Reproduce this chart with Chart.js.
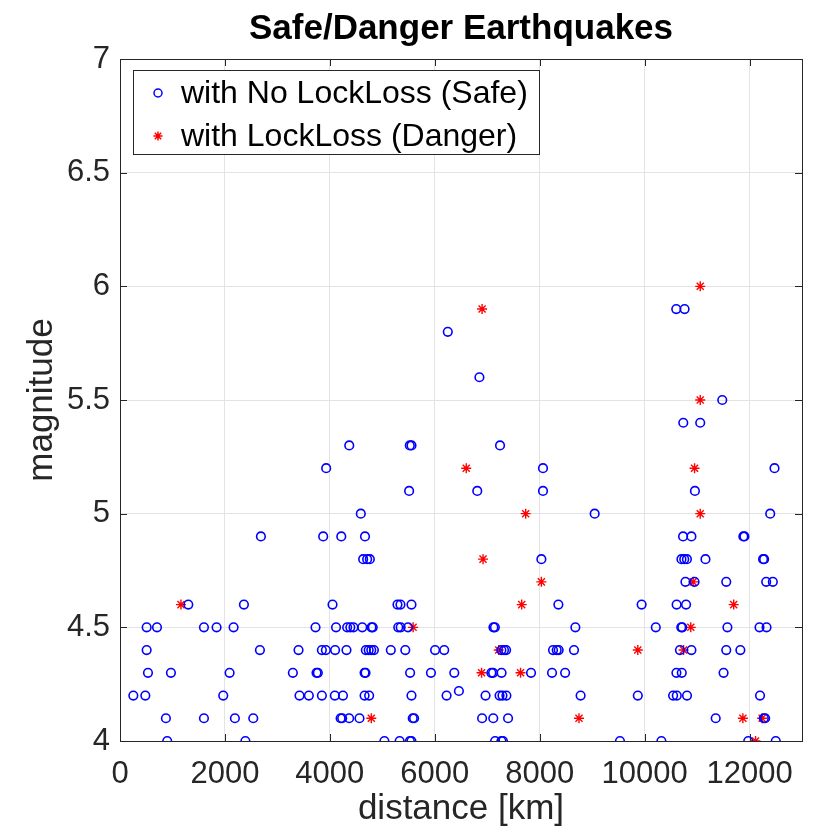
<!DOCTYPE html>
<html>
<head>
<meta charset="utf-8">
<script src="https://cdn.jsdelivr.net/npm/chart.js@4.4.1/dist/chart.umd.min.js"></script>
<style>
  html, body { margin: 0; padding: 0; background: #ffffff; }
  canvas { display: block; }
</style>
</head>
<body>
<canvas id="c" width="820" height="831"></canvas>
<script>
// ---- Data ----
const chartTitle = 'Safe/Danger Earthquakes';
const xAxisTitle = 'distance [km]';
const yAxisTitle = 'magnitude';
const safeLabel = 'with No LockLoss (Safe)';
const dangerLabel = 'with LockLoss (Danger)';

const xTickValues = [0, 2000, 4000, 6000, 8000, 10000, 12000];
const xTickLabels = ['0', '2000', '4000', '6000', '8000', '10000', '12000'];
const yTickValues = [4, 4.5, 5, 5.5, 6, 6.5, 7];
const yTickLabels = ['4', '4.5', '5', '5.5', '6', '6.5', '7'];

const safeDistance = [
  900, 2390, 5040, 5330, 5525, 5555, 7150, 7270, 7300, 9530, 10320, 11975, 12500,
  875, 1600, 2190, 2540, 4205, 4235, 4368, 4565, 5580, 5606, 6902, 7115, 7397, 11355, 12272, 12298,
  254, 483, 1968, 3422, 3600, 3848, 4095, 4250, 4662, 4749, 5556, 6225, 6968, 7235, 7290, 7365, 8780, 9870, 10543, 10613, 10808, 12200,
  6460,
  533, 971, 2089, 3295, 3746, 3771, 4662, 4680, 5530, 5927, 6372, 7079, 7111, 7273, 7835, 8235, 8485, 10606, 10708, 11505,
  508, 2667, 3403, 3848, 3924, 4100, 4317, 4686, 4740, 4790, 4840, 5162, 5438, 6006, 6180, 7270, 7320, 7360, 8254, 8324, 8362, 8654, 10673, 10892, 11556, 11825,
  508, 705, 1600, 1841, 2165, 3727, 4118, 4330, 4390, 4450, 4618, 4794, 4818, 5304, 5350, 5490, 7118, 7146, 8680, 10213, 10698, 10718, 11578, 12190, 12324,
  1302, 2362, 4051, 5289, 5346, 5556, 8356, 9943, 10610, 10790,
  10778, 10952, 11556, 12317, 12444,
  4635, 4711, 4762, 8032, 10702, 10755, 10806, 11160, 12258, 12278,
  2686, 3873, 4218, 4670, 10733, 10892, 11882, 11902,
  4590, 9048, 12394,
  5511, 6810, 8063, 10959,
  3930, 8063, 12476,
  4370, 5524, 5556, 7244,
  10737, 11060,
  11480,
  6851,
  6248,
  10603, 10762
];
const safeMagnitude = [
  4.0, 4.0, 4.0, 4.0, 4.0, 4.0, 4.0, 4.0, 4.0, 4.0, 4.0, 4.0, 4.0,
  4.1, 4.1, 4.1, 4.1, 4.1, 4.1, 4.1, 4.1, 4.1, 4.1, 4.1, 4.1, 4.1, 4.1, 4.1, 4.1,
  4.2, 4.2, 4.2, 4.2, 4.2, 4.2, 4.2, 4.2, 4.2, 4.2, 4.2, 4.2, 4.2, 4.2, 4.2, 4.2, 4.2, 4.2, 4.2, 4.2, 4.2, 4.2,
  4.22,
  4.3, 4.3, 4.3, 4.3, 4.3, 4.3, 4.3, 4.3, 4.3, 4.3, 4.3, 4.3, 4.3, 4.3, 4.3, 4.3, 4.3, 4.3, 4.3, 4.3,
  4.4, 4.4, 4.4, 4.4, 4.4, 4.4, 4.4, 4.4, 4.4, 4.4, 4.4, 4.4, 4.4, 4.4, 4.4, 4.4, 4.4, 4.4, 4.4, 4.4, 4.4, 4.4, 4.4, 4.4, 4.4, 4.4,
  4.5, 4.5, 4.5, 4.5, 4.5, 4.5, 4.5, 4.5, 4.5, 4.5, 4.5, 4.5, 4.5, 4.5, 4.5, 4.5, 4.5, 4.5, 4.5, 4.5, 4.5, 4.5, 4.5, 4.5, 4.5,
  4.6, 4.6, 4.6, 4.6, 4.6, 4.6, 4.6, 4.6, 4.6, 4.6,
  4.7, 4.7, 4.7, 4.7, 4.7,
  4.8, 4.8, 4.8, 4.8, 4.8, 4.8, 4.8, 4.8, 4.8, 4.8,
  4.9, 4.9, 4.9, 4.9, 4.9, 4.9, 4.9, 4.9,
  5.0, 5.0, 5.0,
  5.1, 5.1, 5.1, 5.1,
  5.2, 5.2, 5.2,
  5.3, 5.3, 5.3, 5.3,
  5.4, 5.4,
  5.5,
  5.6,
  5.8,
  5.9, 5.9
];

const dangerDistance = [
  12114,
  4790, 8749, 11873, 12240,
  6892, 7635,
  7219, 9870, 10743,
  5587, 10880,
  1162, 7657, 11698,
  8032, 10925,
  6920,
  7733, 11060,
  6600, 10952,
  11060,
  6902,
  11060
];
const dangerMagnitude = [
  4.0,
  4.1, 4.1, 4.1, 4.1,
  4.3, 4.3,
  4.4, 4.4, 4.4,
  4.5, 4.5,
  4.6, 4.6, 4.6,
  4.7, 4.7,
  4.8,
  5.0, 5.0,
  5.2, 5.2,
  5.5,
  5.9,
  6.0
];

const toPoints = (xs, ys) => xs.map((x, i) => ({ x: x, y: ys[i] }));

const FONT = "'Liberation Sans', Arial, Helvetica, sans-serif";
const AXIS_COLOR = '#262626';
const BLUE = '#0000ff';
const RED = '#ff0000';

// Title centred over the axes (MATLAB style)
const titlePlugin = {
  id: 'axesTitle',
  afterDraw(chart) {
    const { ctx, chartArea: a } = chart;
    ctx.save();
    ctx.fillStyle = '#000000';
    ctx.font = 'bold 35px ' + FONT;
    ctx.textAlign = 'center';
    ctx.textBaseline = 'middle';
    ctx.fillText(chartTitle, (a.left + a.right) / 2, 29);
    ctx.restore();
  }
};

// Box, inward ticks (MATLAB style)
const boxPlugin = {
  id: 'boxPlugin',
  beforeDatasetsDraw(chart) {
    const { ctx, chartArea: a, scales } = chart;
    ctx.save();
    ctx.strokeStyle = AXIS_COLOR;
    ctx.lineWidth = 1;
    const tl = 7;
    ctx.beginPath();
    xTickValues.forEach(v => {
      const px = Math.round(scales.x.getPixelForValue(v)) + 0.5;
      ctx.moveTo(px, a.bottom); ctx.lineTo(px, a.bottom - tl);
      ctx.moveTo(px, a.top); ctx.lineTo(px, a.top + tl);
    });
    yTickValues.forEach(v => {
      const py = Math.round(scales.y.getPixelForValue(v)) + 0.5;
      ctx.moveTo(a.left, py); ctx.lineTo(a.left + tl, py);
      ctx.moveTo(a.right, py); ctx.lineTo(a.right - tl, py);
    });
    ctx.stroke();
    ctx.strokeRect(Math.round(a.left) + 0.5, Math.round(a.top) + 0.5,
                   Math.round(a.right - a.left), Math.round(a.bottom - a.top));
    ctx.restore();
  }
};

// Legend drawn inside the axes, like MATLAB's 'northwest' legend
const legendPlugin = {
  id: 'insideLegend',
  afterDraw(chart) {
    const { ctx } = chart;
    const bx = 133.5, by = 70.5, bw = 406, bh = 84;
    ctx.save();
    ctx.fillStyle = '#ffffff';
    ctx.fillRect(bx, by, bw, bh);
    ctx.strokeStyle = AXIS_COLOR;
    ctx.lineWidth = 1;
    ctx.strokeRect(bx, by, bw, bh);
    const ds = chart.data.datasets;
    const rows = [93, 136];
    ds.forEach((d, i) => {
      const mx = 158, my = rows[i];
      ctx.strokeStyle = d.borderColor;
      ctx.lineWidth = 1.5;
      ctx.beginPath();
      if (d.pointStyle === 'circle') {
        ctx.arc(mx, my, 4, 0, Math.PI * 2);
      } else {
        const r = 4.5;
        for (let k = 0; k < 4; k++) {
          const ang = k * Math.PI / 4;
          ctx.moveTo(mx - r * Math.cos(ang), my - r * Math.sin(ang));
          ctx.lineTo(mx + r * Math.cos(ang), my + r * Math.sin(ang));
        }
      }
      ctx.stroke();
      ctx.fillStyle = '#000000';
      ctx.font = '32px ' + FONT;
      ctx.textBaseline = 'middle';
      ctx.textAlign = 'left';
      ctx.fillText(d.label, 181, my + 1);
    });
    ctx.restore();
  }
};

new Chart(document.getElementById('c'), {
  type: 'scatter',
  data: {
    datasets: [
      {
        label: safeLabel,
        data: toPoints(safeDistance, safeMagnitude),
        pointStyle: 'circle',
        pointRadius: 4.3,
        pointHoverRadius: 4.3,
        borderColor: BLUE,
        backgroundColor: 'rgba(0,0,0,0)',
        pointBorderWidth: 1.6
      },
      {
        label: dangerLabel,
        data: toPoints(dangerDistance, dangerMagnitude),
        pointStyle: 'star',
        pointRadius: 5,
        pointHoverRadius: 5,
        borderColor: RED,
        backgroundColor: RED,
        pointBorderWidth: 1.4
      }
    ]
  },
  options: {
    responsive: false,
    animation: false,
    devicePixelRatio: 1,
    layout: { padding: { left: 0, right: 18, top: 59, bottom: 0 } },
    plugins: {
      legend: { display: false },
      tooltip: { enabled: false },
      title: { display: false }
    },
    scales: {
      x: {
        type: 'linear',
        min: 0,
        max: 13000,
        afterFit(scale) { scale.height = 90; },
        afterBuildTicks(scale) { scale.ticks = xTickValues.map(v => ({ value: v })); },
        ticks: {
          includeBounds: false,
          color: AXIS_COLOR,
          font: { family: FONT, size: 31 },
          padding: 15,
          maxRotation: 0,
          autoSkip: false,
          callback(value) { const i = xTickValues.indexOf(value); return i >= 0 ? xTickLabels[i] : ''; }
        },
        grid: { color: '#e3e3e3', lineWidth: 1, drawTicks: false },
        border: { display: false },
        title: {
          display: true,
          text: xAxisTitle,
          color: AXIS_COLOR,
          font: { family: FONT, size: 35 },
          padding: { top: 0, bottom: 1 }
        }
      },
      y: {
        type: 'linear',
        min: 4,
        max: 7,
        afterFit(scale) { scale.width = 120; },
        afterBuildTicks(scale) { scale.ticks = yTickValues.map(v => ({ value: v })); },
        ticks: {
          includeBounds: false,
          color: AXIS_COLOR,
          font: { family: FONT, size: 31 },
          padding: 10,
          autoSkip: false,
          callback(value) { const i = yTickValues.indexOf(value); return i >= 0 ? yTickLabels[i] : ''; }
        },
        grid: { color: '#e3e3e3', lineWidth: 1, drawTicks: false },
        border: { display: false },
        title: {
          display: true,
          text: yAxisTitle,
          color: AXIS_COLOR,
          font: { family: FONT, size: 35 },
          padding: { top: 21, bottom: 0 }
        }
      }
    }
  },
  plugins: [boxPlugin, legendPlugin, titlePlugin]
});
</script>
</body>
</html>
